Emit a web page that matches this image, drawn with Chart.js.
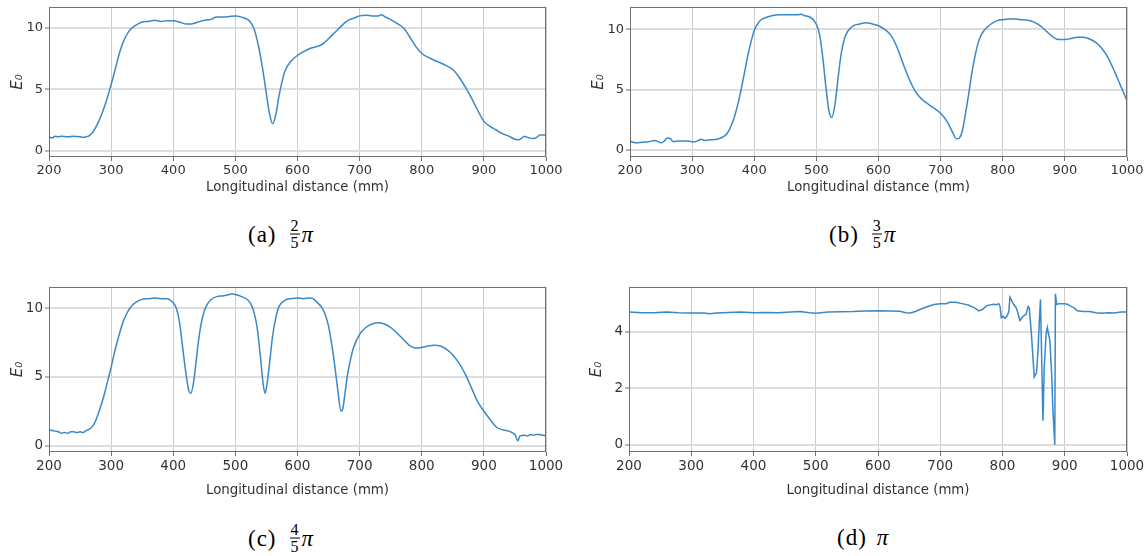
<!DOCTYPE html>
<html><head><meta charset="utf-8">
<script src="https://cdn.jsdelivr.net/npm/chart.js@4.4.0/dist/chart.umd.min.js"></script>
<style>
body{margin:0;background:#fff;width:1148px;height:556px;overflow:hidden;position:relative;}
canvas{position:absolute;}
.cap{position:absolute;font-family:"Liberation Serif","DejaVu Serif",serif;font-size:23px;color:#000;display:flex;align-items:center;white-space:nowrap;transform:translateY(-50%);}
.cap .lbl{letter-spacing:1px;}
.frac{display:inline-flex;flex-direction:column;align-items:center;font-size:16px;line-height:14px;margin:0 1px 0 13px;color:#000;}
.frac .n{border-bottom:1px solid #000;padding:0 1px 1px;}
.frac .d{padding-top:1px;}
.pi{font-style:italic;margin-left:1px;}
</style></head><body>
<canvas id="ca" width="570" height="205" style="left:0;top:0"></canvas>
<canvas id="cb" width="567" height="205" style="left:581px;top:0"></canvas>
<canvas id="cc" width="570" height="219" style="left:0;top:280px"></canvas>
<canvas id="cd" width="569" height="219" style="left:579px;top:280px"></canvas>
<div class="cap" style="left:248px;top:234px"><span class="lbl">(a)</span><span class="frac"><span class="n">2</span><span class="d">5</span></span><span class="pi">π</span></div>
<div class="cap" style="left:829px;top:234px"><span class="lbl">(b)</span><span class="frac"><span class="n">3</span><span class="d">5</span></span><span class="pi">π</span></div>
<div class="cap" style="left:248px;top:538px"><span class="lbl">(c)</span><span class="frac"><span class="n">4</span><span class="d">5</span></span><span class="pi">π</span></div>
<div class="cap" style="left:837px;top:538px"><span class="lbl">(d)</span><span class="pi" style="margin-left:10px">π</span></div>
<script>
// ---- data ----
const xTicks = [200, 300, 400, 500, 600, 700, 800, 900, 1000];
const yTicksABC = [0, 5, 10];
const yTicksD = [0, 2, 4];
const xTitle = 'Longitudinal distance (mm)';
const yTitle = 'E₀';

const xA = [200,205,210,215,220,230,240,250,255,260,265,270,275,280,285,290,295,300,305,310,315,320,325,330,340,350,360,370,380,390,400,410,420,430,440,450,460,470,480,490,500,510,520,525,530,535,540,545,550,555,560,565,570,575,580,590,600,610,620,630,640,650,660,670,680,690,700,710,720,730,735,740,750,760,770,780,790,800,810,820,830,840,850,860,870,880,890,900,910,920,930,940,950,955,960,965,970,980,985,990,1000];
const yA = [1.15,1.05,1.2,1.15,1.2,1.15,1.2,1.15,1.1,1.15,1.25,1.5,1.9,2.4,3.0,3.7,4.5,5.4,6.3,7.3,8.2,8.9,9.4,9.8,10.2,10.45,10.5,10.6,10.5,10.55,10.55,10.45,10.3,10.3,10.45,10.6,10.65,10.85,10.85,10.9,10.95,10.85,10.65,10.4,9.9,9.0,7.8,6.3,4.6,3.0,2.2,2.9,4.4,5.6,6.5,7.3,7.75,8.05,8.3,8.45,8.65,9.1,9.6,10.1,10.55,10.75,10.95,11.0,10.95,10.95,11.05,10.9,10.65,10.35,10.0,9.3,8.5,7.9,7.6,7.35,7.15,6.9,6.6,6.0,5.2,4.3,3.3,2.4,2.0,1.7,1.4,1.2,0.95,0.9,1.0,1.2,1.1,1.0,1.1,1.3,1.3];

const xB = [200,205,210,220,230,240,245,250,255,260,265,270,280,290,300,305,310,315,320,330,340,350,355,360,365,370,375,380,385,390,395,400,405,410,420,430,440,450,460,470,475,480,490,495,500,505,510,515,520,525,530,535,540,545,550,560,570,580,590,600,610,620,630,640,650,660,670,680,690,700,710,720,725,730,735,740,745,750,755,760,765,770,780,790,800,810,820,830,840,850,860,870,880,890,900,910,920,930,940,950,960,970,980,990,1000];
const yB = [0.75,0.65,0.6,0.65,0.7,0.8,0.7,0.6,0.75,1.0,0.95,0.7,0.75,0.75,0.7,0.7,0.8,0.9,0.8,0.85,0.9,1.1,1.3,1.7,2.3,3.1,4.1,5.3,6.6,7.9,9.0,9.9,10.4,10.75,11.0,11.15,11.2,11.2,11.2,11.2,11.25,11.15,11.0,10.8,10.4,9.6,7.8,5.4,3.3,2.7,3.8,6.0,8.0,9.2,9.8,10.3,10.45,10.55,10.45,10.3,10.0,9.5,8.5,7.1,5.8,4.8,4.2,3.8,3.45,3.05,2.4,1.4,0.95,1.0,1.6,3.0,4.6,6.3,7.7,8.8,9.5,9.9,10.4,10.7,10.8,10.85,10.85,10.8,10.75,10.6,10.3,9.85,9.4,9.15,9.15,9.25,9.35,9.35,9.2,8.9,8.4,7.6,6.5,5.3,4.1];

const xC = [200,205,210,215,220,225,230,235,240,245,250,255,260,265,270,275,280,285,290,295,300,305,310,315,320,325,330,340,350,360,370,380,390,395,400,405,410,415,420,425,428,432,436,440,445,450,455,460,470,480,490,495,500,510,520,525,530,535,540,545,548,551,555,560,565,570,580,590,600,610,620,625,630,640,645,650,655,660,665,670,673,677,680,685,690,700,710,720,730,740,750,760,770,780,790,800,810,820,830,840,850,860,870,880,890,900,910,920,930,940,945,950,955,958,965,970,975,980,985,990,995,1000];
const yC = [1.15,1.1,1.05,1.0,0.9,0.95,0.9,1.0,1.0,0.95,1.0,0.95,1.1,1.2,1.4,1.8,2.4,3.1,3.9,4.8,5.7,6.7,7.6,8.4,9.1,9.6,10.0,10.45,10.65,10.7,10.75,10.7,10.7,10.6,10.4,10.0,9.0,7.2,5.4,4.0,3.8,4.4,5.8,7.4,8.9,9.8,10.3,10.6,10.85,10.9,11.0,11.05,11.0,10.85,10.6,10.3,9.7,8.6,6.6,4.4,3.8,4.5,6.0,8.0,9.3,10.1,10.6,10.7,10.75,10.7,10.75,10.7,10.5,10.0,9.5,8.7,7.4,5.8,4.0,2.5,2.7,4.0,5.0,6.2,7.1,8.1,8.6,8.85,8.95,8.85,8.6,8.2,7.75,7.3,7.1,7.15,7.25,7.3,7.25,7.0,6.6,6.0,5.2,4.2,3.2,2.5,1.9,1.35,1.15,1.05,0.95,0.8,0.35,0.7,0.75,0.7,0.8,0.75,0.8,0.8,0.75,0.7];

const xD = [200,220,240,260,280,300,320,330,340,360,380,400,420,440,460,475,490,500,520,540,560,580,600,620,635,645,652,660,670,680,690,700,710,715,725,735,745,755,762,768,775,785,790,794,796,798,801,804,807,810,812,815,818,822,825,828,833,838,841,843,846.5,851,854.6,857,859,861,863,865,867,870,872,876,879,881,884,885,887,890,900,905,910,915,920,930,940,950,960,970,980,990,1000];
const yD = [4.7,4.68,4.68,4.7,4.68,4.67,4.67,4.64,4.67,4.69,4.7,4.68,4.69,4.68,4.7,4.72,4.68,4.66,4.7,4.71,4.72,4.74,4.75,4.74,4.73,4.68,4.67,4.72,4.82,4.9,4.97,5.0,5.0,5.05,5.05,5.0,4.95,4.85,4.74,4.8,4.93,4.98,4.96,5.0,4.9,4.5,4.55,4.48,4.55,4.7,5.23,5.1,4.97,4.85,4.65,4.4,4.55,4.63,4.9,4.85,3.9,2.4,2.55,3.3,4.3,5.15,3.0,0.85,2.7,3.9,4.15,3.7,2.5,1.2,0.0,5.35,4.97,5.0,5.0,4.97,4.9,4.85,4.75,4.72,4.72,4.68,4.66,4.68,4.67,4.7,4.7];

// ---- rendering ----
const LINE = '#3a88c8';
const frame = {
  id: 'frame',
  afterDraw(c) {
    const a = c.chartArea, ctx = c.ctx;
    ctx.save();
    ctx.strokeStyle = '#707070';
    ctx.lineWidth = 1;
    const l = Math.round(a.left) + 0.5, t = Math.round(a.top) + 0.5;
    const r = Math.round(a.right) - 0.5, b = Math.round(a.bottom) - 0.5;
    ctx.strokeRect(l, t, r - l, b - t);
    ctx.restore();
  }
};

function make(id, xs, ys, yMin, yMax, yTicks, cfg) {
  new Chart(document.getElementById(id), {
    type: 'line',
    data: { datasets: [{
      data: xs.map((x, i) => ({ x: x, y: ys[i] })),
      borderColor: LINE, borderWidth: 1.5, pointRadius: 0, fill: false,
      tension: cfg.mono ? 0.4 : 0, cubicInterpolationMode: cfg.mono ? 'monotone' : 'default'
    }] },
    options: {
      responsive: false, animation: false, devicePixelRatio: 1,
      layout: { padding: { left: cfg.pl, top: cfg.pt, right: cfg.pr, bottom: 0 } },
      plugins: { legend: { display: false }, tooltip: { enabled: false } },
      scales: {
        x: {
          type: 'linear', min: 200, max: 1000,
          afterBuildTicks: s => { s.ticks = xTicks.map(v => ({ value: v })); },
          afterFit: s => { s.height = cfg.xh; s.paddingLeft = 0; s.paddingRight = 0; },
          grid: { color: '#cccccc', lineWidth: 1, tickLength: 4, tickColor: '#707070', tickWidth: 1 },
          border: { display: false },
          ticks: { color: '#333', font: { family: 'DejaVu Sans', size: cfg.fs }, padding: 2, maxRotation: 0, autoSkip: false, callback: v => String(v) },
          title: { display: true, text: xTitle, color: '#333', font: { family: 'DejaVu Sans', size: cfg.ft }, padding: { top: 0, bottom: cfg.tpb } }
        },
        y: {
          type: 'linear', min: yMin, max: yMax,
          afterBuildTicks: s => { s.ticks = yTicks.map(v => ({ value: v })); },
          afterFit: s => { s.width = cfg.yw; s.paddingTop = 0; s.paddingBottom = 0; },
          grid: { color: '#dddddd', lineWidth: 2, tickLength: 4, tickColor: '#707070', tickWidth: 1 },
          border: { display: false },
          ticks: { color: '#333', font: { family: 'DejaVu Sans', size: cfg.fs }, padding: 2, callback: v => String(v) },
          title: { display: true, text: yTitle, color: '#333', font: { family: 'DejaVu Sans', size: 15, style: 'italic' }, padding: { top: 0, bottom: 0 } }
        }
      }
    },
    plugins: [frame]
  });
}

make('ca', xA, yA, -0.49, 11.67, yTicksABC, { mono: true, pl: 9, pt: 7, pr: 24, yw: 40, xh: 48, fs: 13, ft: 13.3, tpb: 9 });
make('cb', xB, yB, -0.57, 11.85, yTicksABC, { mono: true, pl: 9, pt: 7, pr: 21, yw: 40, xh: 48, fs: 13, ft: 13.3, tpb: 9 });
make('cc', xC, yC, -0.47, 11.55, yTicksABC, { mono: true, pl: 9, pt: 7, pr: 24, yw: 40, xh: 47, fs: 13.5, ft: 13.3, tpb: 0 });
make('cd', xD, yD, -0.26, 5.59, yTicksD, { mono: false, pl: 9, pt: 7, pr: 21, yw: 41, xh: 47, fs: 13.5, ft: 13.3, tpb: 0 });
</script>
</body></html>
